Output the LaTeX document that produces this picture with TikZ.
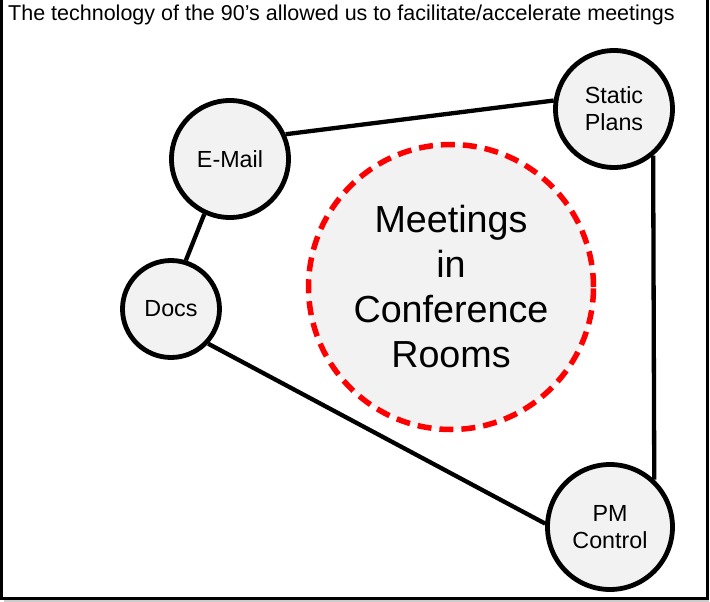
\documentclass[tikz,border=0pt]{standalone}
\usepackage{fontspec}
\setmainfont{Liberation Sans}
\definecolor{nodefill}{HTML}{F2F2F2}
\definecolor{dashred}{HTML}{FF0000}
\begin{document}
\begin{tikzpicture}[x=1pt,y=-1pt,
  bubble/.style={circle,draw=black,line width=4.8pt,fill=nodefill,inner sep=0pt,align=center,
    font=\fontsize{23.3}{27}\selectfont},
  hub/.style={circle,draw=dashred,line width=5.5pt,dash pattern=on 14pt off 8pt,fill=nodefill,
    inner sep=0pt,align=center,font=\fontsize{37.7}{45}\selectfont},
  link/.style={draw=black,line width=4.3pt},
  frame/.style={draw=black,line width=3pt}]
\useasboundingbox (0,0) rectangle (710,602);
% frame
\coordinate (tl) at (1.5,0);
\coordinate (bl) at (1.5,598);
\coordinate (br) at (707,598);
\coordinate (tr) at (707,0);
\draw[gray!40,line width=1.5pt] (4,601) -- (709,601);
\draw[frame] (tl) -- (bl) -- (br) -- (tr);
% title
\node[anchor=base west,inner sep=0pt,font=\fontsize{21.5}{25}\selectfont] (title) at (8,21) {The technology of the 90’s allowed us to facilitate/accelerate meetings};
% hub
\node[hub,minimum size=285pt] (hub) at (451,287) {Meetings\\in\\Conference\\Rooms};
% bubbles
\node[bubble,minimum size=117pt] (email) at (230,159) {E-Mail};
\node[bubble,minimum size=117pt] (static) at (614,109) {Static\\Plans};
\node[bubble,minimum size=97pt] (docs) at (171,309) {Docs};
\node[bubble,minimum size=125pt] (pm) at (610,527) {PM\\Control};
% links
\draw[link] (email.24) -- (static.172);
\draw[link] (email.-115) -- (docs.73);
\draw[link] (docs.-43) -- (pm.177);
\draw[link] (static.-50) -- (pm.47);
\end{tikzpicture}
\end{document}
